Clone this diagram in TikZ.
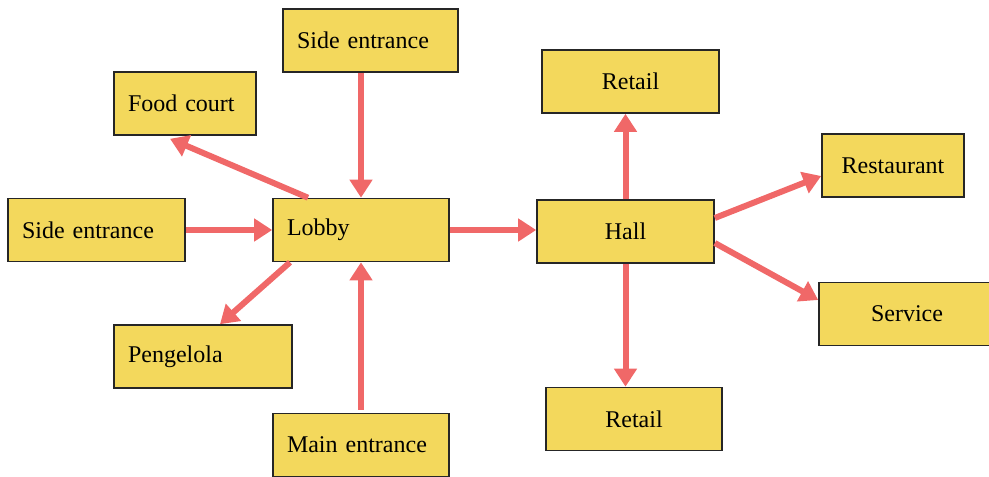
\documentclass[tikz,border=0pt]{standalone}
\usepackage{fontspec}
\setmainfont{Liberation Serif}
\usetikzlibrary{arrows.meta}

\definecolor{boxyellow}{RGB}{243,216,92}
\definecolor{flowred}{RGB}{240,104,104}

\tikzset{
  box/.style={draw=black!85, line width=.8pt, fill=boxyellow,
    inner xsep=7pt, inner ysep=0pt, minimum height=31.5pt,
    text width=#1, align=left, font=\fontsize{12}{14}\selectfont},
  cbox/.style={box=#1, align=center},
  flow/.style={draw=flowred, line width=3pt,
    -{Triangle[length=9pt, width=11pt]}},
}

\begin{document}
\begin{tikzpicture}[x=.5pt, y=-.5pt]
  \useasboundingbox (0,0) rectangle (989,476);

  % entrances and lobby side
  \node[box=73.5pt]  (sidetop)  at (370.5,40.5) {Side entrance};
  \node[box=57pt]    (food)     at (185,103.5)  {Food court};
  \node[box=74.5pt]  (sideleft) at (96.5,230)   {Side entrance};
  \node[box=74pt]    (lobby)    at (361,230)    {Lobby};
  \node[box=75pt]    (peng)     at (203,356.5)  {Pengelola};
  \node[box=74pt]    (mainent)  at (361,445)    {Main entrance};

  % hall side
  \node[cbox=74.5pt] (retailtop) at (630.5,81.5) {Retail};
  \node[cbox=74.5pt] (hall)      at (625.5,231.5) {Hall};
  \node[cbox=57pt]   (rest)      at (893,165.5)  {Restaurant};
  \node[cbox=74pt]   (serv)      at (907,314)    {Service};
  \node[cbox=74pt]   (retailbot) at (634,419)    {Retail};

  \draw[flow] (lobby.north |- sidetop.south) -- (lobby.north);
  \draw[flow] ([xshift=-26.5pt]lobby.north) -- ([xshift=-7.5pt,yshift=-1.5pt]food.south);
  \draw[flow] (sideleft.east) -- (sideleft.east -| lobby.west);
  \draw[flow] ([xshift=-35.5pt]lobby.south) -- ([xshift=8.5pt]peng.north);
  \draw[flow] ([yshift=1.5pt]mainent.north) -- (lobby.south);
  \draw[flow] (lobby.east) -- (lobby.east -| hall.west);

  \draw[flow] (hall.north) -- (hall.north |- retailtop.south);
  \draw[flow] ([yshift=6.75pt]hall.east) -- ([yshift=-5.25pt]rest.west);
  \draw[flow] ([yshift=-5.75pt]hall.east) -- ([yshift=7pt]serv.west);
  \draw[flow] (hall.south) -- (hall.south |- retailbot.north);
\end{tikzpicture}
\end{document}
